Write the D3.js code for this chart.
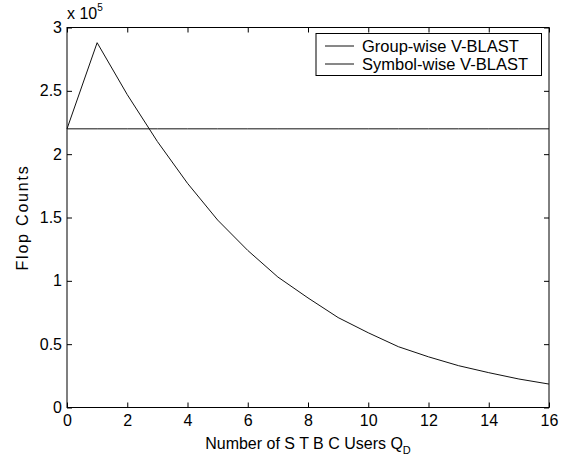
<!DOCTYPE html>
<html>
<head>
<meta charset="utf-8">
<script src="https://cdn.jsdelivr.net/npm/d3@7"></script>
<style>
  html, body { margin: 0; padding: 0; background: #fff; }
  svg { display: block; }
  text { font-family: "Liberation Sans", Arial, sans-serif; fill: #000; }
</style>
</head>
<body>
<svg id="chart" width="577" height="457"></svg>
<script>
// ---- data ----
const usersQD = [0, 1, 2, 3, 4, 5, 6, 7, 8, 9, 10, 11, 12, 13, 14, 15, 16];
const groupWiseFlops = [2.2, 2.2, 2.2, 2.2, 2.2, 2.2, 2.2, 2.2, 2.2, 2.2, 2.2, 2.2, 2.2, 2.2, 2.2, 2.2, 2.2]; // x 10^5
const symbolWiseFlops = [2.2, 2.88, 2.47, 2.10, 1.77, 1.48, 1.24, 1.03, 0.865, 0.71, 0.59, 0.48, 0.40, 0.33, 0.275, 0.225, 0.185]; // x 10^5
const seriesNames = ["Group-wise V-BLAST", "Symbol-wise V-BLAST"];
const xTicks = [0, 2, 4, 6, 8, 10, 12, 14, 16];
const yTicks = [0, 0.5, 1, 1.5, 2, 2.5, 3];
const yTickLabels = ["0", "0.5", "1", "1.5", "2", "2.5", "3"];

// ---- layout ----
const L = 67, R = 549, T = 27.5, B = 407.5;
const svg = d3.select("#chart");
const x = d3.scaleLinear().domain([0, 16]).range([L, R]);
const y = d3.scaleLinear().domain([0, 3]).range([B, T]);
const fs = 16;
const tickLen = 5;

// axes (bottom / left with labels, ticks inward)
const gx = svg.append("g").attr("transform", `translate(0,${B})`)
  .call(d3.axisBottom(x).tickValues(xTicks).tickFormat(d3.format("d")).tickSize(-tickLen).tickPadding(7));
const gy = svg.append("g").attr("transform", `translate(${L},0)`)
  .call(d3.axisLeft(y).tickValues(yTicks).tickFormat((d, i) => yTickLabels[i]).tickSize(-tickLen).tickPadding(5));
const gxt = svg.append("g").attr("transform", `translate(0,${T})`)
  .call(d3.axisTop(x).tickValues(xTicks).tickFormat("").tickSize(-tickLen));
const gyr = svg.append("g").attr("transform", `translate(${R},0)`)
  .call(d3.axisRight(y).tickValues(yTicks).tickFormat("").tickSize(-tickLen));
[gx, gy, gxt, gyr].forEach(g => {
  g.select(".domain").remove();
  g.selectAll("line").attr("stroke", "#000").attr("stroke-width", 1);
  g.selectAll("text").style("font-size", fs + "px").style("font-family", "Liberation Sans, Arial, sans-serif").attr("fill", "#000");
});
gx.selectAll("text").attr("dy", "0.71em");

// box
svg.append("rect").attr("x", L).attr("y", T).attr("width", R - L).attr("height", B - T)
  .attr("fill", "none").attr("stroke", "#000").attr("stroke-width", 1);

// lines
const line = d3.line().x((d, i) => x(usersQD[i])).y(d => y(d));
svg.append("path").datum(groupWiseFlops).attr("d", line)
  .attr("fill", "none").attr("stroke", "#111").attr("stroke-width", 1);
svg.append("path").datum(symbolWiseFlops).attr("d", line)
  .attr("fill", "none").attr("stroke", "#111").attr("stroke-width", 1);

// exponent label
const ex = svg.append("text").attr("x", L).attr("y", 19).style("font-size", fs + "px");
ex.append("tspan").text("x 10");
ex.append("tspan").attr("dy", -8).style("font-size", "10px").text("5");

// axis labels
const xl = svg.append("text").attr("x", (L + R) / 2).attr("y", 449).attr("text-anchor", "middle").style("font-size", fs + "px");
xl.append("tspan").text("Number of S T B C Users Q");
xl.append("tspan").attr("dy", 5).style("font-size", "11px").text("D");

svg.append("text").attr("transform", `translate(28,${(T + B) / 2}) rotate(-90)`)
  .attr("text-anchor", "middle").style("font-size", fs + "px").style("letter-spacing", "1.8px").text("Flop Counts");

// legend
const lg = svg.append("g");
lg.append("rect").attr("x", 316).attr("y", 33.5).attr("width", 225.5).attr("height", 42)
  .attr("fill", "#fff").attr("stroke", "#000").attr("stroke-width", 1);
seriesNames.forEach((name, i) => {
  const cy = 46 + i * 18;
  lg.append("line").attr("x1", 325).attr("x2", 354).attr("y1", cy).attr("y2", cy)
    .attr("stroke", "#111").attr("stroke-width", 1);
  lg.append("text").attr("x", 362).attr("y", cy).attr("dy", "0.35em").style("font-size", "16.5px").text(name);
});
</script>
</body>
</html>
